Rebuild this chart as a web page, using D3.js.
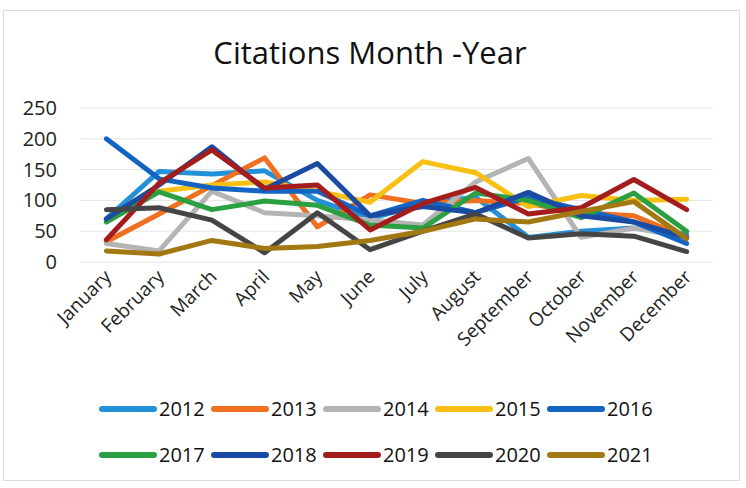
<!DOCTYPE html>
<html>
<head>
<meta charset="utf-8">
<script src="https://cdn.jsdelivr.net/npm/d3@7"></script>
<style>
  html, body { margin: 0; padding: 0; background: #ffffff; }
  svg { display: block; }
</style>
</head>
<body>
<svg id="chart" width="746" height="488"></svg>
<script>
const months = ["January","February","March","April","May","June","July","August","September","October","November","December"];
const years = ["2012","2013","2014","2015","2016","2017","2018","2019","2020","2021"];
const yTicks = [0, 50, 100, 150, 200, 250];

const s2012 = [70, 147, 143, 148, 100, 70, 95, 105, 40, 50, 55, 45];
const s2013 = [33, 78, 124, 169, 57, 109, 95, 100, 95, 80, 75, 40];
const s2014 = [30, 18, 115, 80, 75, 68, 60, 130, 168, 40, 55, 40];
const s2015 = [70, 115, 125, 130, 115, 97, 163, 145, 90, 108, 100, 102];
const s2016 = [200, 135, 120, 115, 115, 75, 100, 80, 105, 85, 65, 30];
const s2017 = [65, 114, 85, 99, 92, 60, 55, 112, 100, 72, 112, 50];
const s2018 = [70, 125, 187, 118, 160, 75, 90, 80, 113, 75, 65, 40];
const s2019 = [36, 128, 182, 120, 125, 52, 95, 121, 78, 88, 134, 85];
const s2020 = [85, 88, 68, 15, 80, 20, 50, 78, 39, 46, 42, 17];
const s2021 = [18, 13, 35, 22, 25, 35, 50, 70, 65, 82, 98, 38];

const seriesValues = [s2012, s2013, s2014, s2015, s2016, s2017, s2018, s2019, s2020, s2021];
const colors = ["#2391d8", "#f07020", "#b4b4b4", "#f8c014", "#1464c4", "#2ba043", "#1a4aa2", "#a51c1c", "#454545", "#a27812"];

const series = years.map((y, i) => ({ name: y, values: seriesValues[i], color: colors[i] }));

const svg = d3.select("#chart");
const FONT = "'Open Sans', 'Liberation Sans', sans-serif";

// chart border
svg.append("rect").attr("x", 3.5).attr("y", 10.5).attr("width", 736).attr("height", 470)
  .attr("fill", "#fff").attr("stroke", "#dcdcdc").attr("stroke-width", 1);

// title
svg.append("text").attr("x", 370).attr("y", 64).attr("text-anchor", "middle")
  .attr("font-family", FONT).attr("font-size", 31).attr("fill", "#111")
  .text("Citations Month -Year");

const x = d3.scaleBand().domain(months).range([80, 713]);
const y = d3.scaleLinear().domain([0, 250]).range([262, 108]);

// gridlines
svg.append("g").selectAll("line").data(yTicks).join("line")
  .attr("x1", 80).attr("x2", 713)
  .attr("y1", d => y(d)).attr("y2", d => y(d))
  .attr("stroke", "#e4e4e4").attr("stroke-width", 1);

// y axis
const yAxis = svg.append("g").attr("transform", "translate(57,0)")
  .call(d3.axisLeft(y).tickValues(yTicks).tickSize(0).tickPadding(0));
yAxis.select(".domain").remove();
yAxis.selectAll("text").attr("font-family", FONT).attr("font-size", 20).attr("fill", "#222");

// x axis
const xAxis = svg.append("g").attr("transform", "translate(0,262)")
  .call(d3.axisBottom(x).tickSize(0).tickPadding(0));
xAxis.select(".domain").remove();
xAxis.selectAll("text")
  .attr("font-family", FONT).attr("font-size", 19).attr("fill", "#222")
  .attr("text-anchor", "end")
  .attr("dy", 0)
  .attr("transform", "translate(6,16) rotate(-45)");

// lines
const line = d3.line().x((d, i) => x(months[i]) + x.bandwidth() / 2).y(d => y(d));
svg.append("g").selectAll("path").data(series).join("path")
  .attr("d", d => line(d.values))
  .attr("fill", "none")
  .attr("stroke", d => d.color)
  .attr("stroke-width", 5)
  .attr("stroke-linejoin", "round")
  .attr("stroke-linecap", "round");

// legend
const leg = svg.append("g");
series.forEach((s, i) => {
  const col = i % 5, row = Math.floor(i / 5);
  const lx = 100 + col * 112, ly = 409 + row * 46;
  leg.append("line").attr("x1", lx + 2).attr("x2", lx + 54).attr("y1", ly).attr("y2", ly)
    .attr("stroke", s.color).attr("stroke-width", 6).attr("stroke-linecap", "round");
  leg.append("text").attr("x", lx + 59).attr("y", ly + 7)
    .attr("font-family", FONT).attr("font-size", 20).attr("fill", "#111")
    .text(s.name);
});
</script>
</body>
</html>
